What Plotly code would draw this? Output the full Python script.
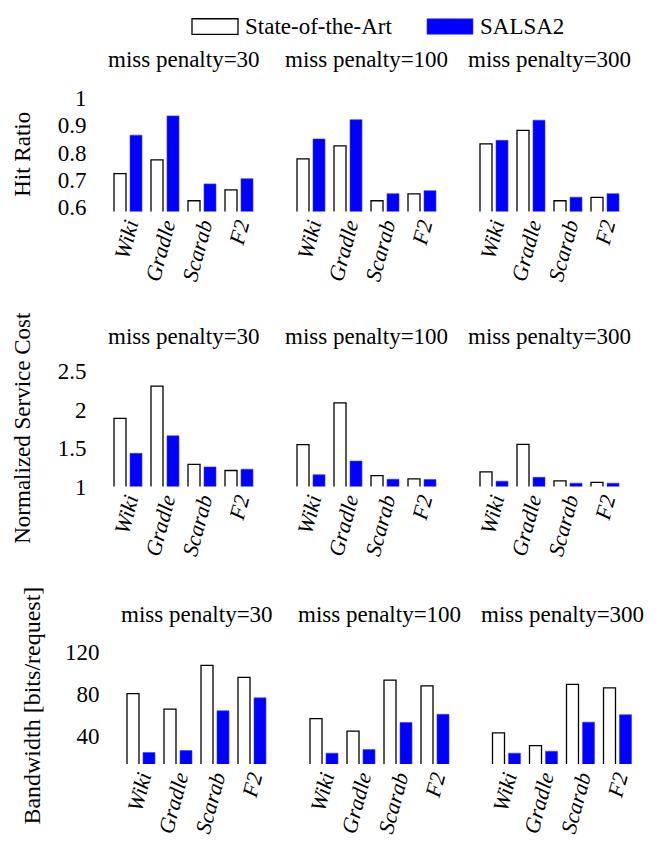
import plotly.graph_objects as go

W, H = 661, 842

categories = ["Wiki", "Gradle", "Scarab", "F2"]
penalties = [30, 100, 300]
series_names = ["State-of-the-Art", "SALSA2"]

hit_sota = [[0.723, 0.773, 0.623, 0.663],
            [0.777, 0.825, 0.623, 0.648],
            [0.832, 0.882, 0.623, 0.635]]
hit_salsa = [[0.864, 0.935, 0.685, 0.704],
             [0.850, 0.921, 0.649, 0.660],
             [0.845, 0.919, 0.636, 0.649]]

cost_sota = [[1.887, 2.308, 1.288, 1.209],
             [1.546, 2.090, 1.142, 1.099],
             [1.192, 1.550, 1.073, 1.053]]
cost_salsa = [[1.432, 1.660, 1.255, 1.225],
              [1.154, 1.331, 1.095, 1.091],
              [1.070, 1.120, 1.044, 1.044]]

bw_sota = [[80.0, 65.2, 106.8, 95.4],
           [56.3, 44.3, 92.9, 87.4],
           [42.8, 30.5, 88.9, 85.5]]
bw_salsa = [[24.0, 25.9, 63.7, 76.0],
            [23.4, 26.8, 52.6, 60.3],
            [23.4, 25.2, 52.9, 60.0]]

row_titles = ["Hit Ratio", "Normalized Service Cost", "Bandwidth [bits/request]"]
hit_ticks = [0.6, 0.7, 0.8, 0.9, 1.0]
hit_ticktext = ["0.6", "0.7", "0.8", "0.9", "1"]
cost_ticks = [1.0, 1.5, 2.0, 2.5]
cost_ticktext = ["1", "1.5", "2", "2.5"]
bw_ticks = [40, 80, 120]
bw_ticktext = ["40", "80", "120"]

FONT = "Liberation Serif, Times New Roman, Times, serif"
FS = 23
XFS = 22
BLUE = "#0000ff"

rows = [
    dict(sota=hit_sota, salsa=hit_salsa, yrange=[0.583, 1.002], ypx=[89.2, 206.5],
         ticks=hit_ticks, ticktext=hit_ticktext,
         xpx=[[109.5, 257.5], [292.5, 440.5], [475.5, 623.5]], title_y=50,
         ytitle_xy=(23, 148), ytitle_fs=23),
    dict(sota=cost_sota, salsa=cost_salsa, yrange=[1.0, 2.52], ypx=[369.3, 489.5],
         ticks=cost_ticks, ticktext=cost_ticktext,
         xpx=[[109.5, 257.5], [292.5, 440.5], [475.5, 623.5]], title_y=335,
         ytitle_xy=(23, 429), ytitle_fs=23),
    dict(sota=bw_sota, salsa=bw_salsa, yrange=[13.2, 122], ypx=[657.2, 775],
         ticks=bw_ticks, ticktext=bw_ticktext,
         xpx=[[122.5, 270.5], [305.5, 453.5], [488, 636]], title_y=621,
         ytitle_xy=(32, 715), ytitle_fs=24),
]

fig = go.Figure()
layout = dict(width=W, height=H, margin=dict(l=0, r=0, t=0, b=0),
              paper_bgcolor="white", plot_bgcolor="white",
              barmode="group", bargap=0.135, bargroupgap=0.25,
              showlegend=False, font=dict(family=FONT, size=FS, color="black"))
annotations = []
shapes = []

ticktext_x = ["<i>%s</i>" % c for c in categories]

idx = 0
for r, row in enumerate(rows):
    for c in range(3):
        idx += 1
        xa = "x" if idx == 1 else "x%d" % idx
        ya = "y" if idx == 1 else "y%d" % idx
        fig.add_trace(go.Bar(x=categories, y=row["sota"][c], name=series_names[0],
                             marker=dict(color="white", line=dict(color="black", width=1.3)),
                             xaxis=xa, yaxis=ya, base=0))
        fig.add_trace(go.Bar(x=categories, y=row["salsa"][c], name=series_names[1],
                             marker=dict(color=BLUE, line=dict(color="#3a3aff", width=0.6)),
                             xaxis=xa, yaxis=ya, base=0))
        x0, x1 = row["xpx"][c]
        y0, y1 = row["ypx"]
        layout["xaxis" if idx == 1 else "xaxis%d" % idx] = dict(
            domain=[x0 / W, x1 / W], anchor=ya, type="category",
            categoryorder="array", categoryarray=categories,
            range=[-0.5, 3.5], showgrid=False, showline=False, zeroline=False,
            tickmode="array", tickvals=categories, ticktext=ticktext_x,
            tickangle=-75, ticks="", ticklabelstandoff=-4,
            tickfont=dict(family=FONT, size=XFS))
        layout["yaxis" if idx == 1 else "yaxis%d" % idx] = dict(
            domain=[1 - y1 / H, 1 - y0 / H], anchor=xa, range=row["yrange"],
            showgrid=False, showline=False, zeroline=False,
            tickmode="array", tickvals=row["ticks"], ticktext=row["ticktext"],
            showticklabels=(c == 0), ticks="", ticklabelstandoff=22,
            tickfont=dict(family=FONT, size=FS))
        annotations.append(dict(text="miss penalty=%d" % penalties[c],
                                x=(x0 + x1) / 2 / W, y=1 - row["title_y"] / H,
                                xref="paper", yref="paper", showarrow=False,
                                xanchor="center", yanchor="middle",
                                font=dict(family=FONT, size=FS)))
    tx, ty = row["ytitle_xy"]
    annotations.append(dict(text=row_titles[r], x=tx / W, y=1 - ty / H,
                            xref="paper", yref="paper", showarrow=False,
                            textangle=-90, xanchor="center", yanchor="middle",
                            font=dict(family=FONT, size=row["ytitle_fs"])))

shapes.append(dict(type="rect", xref="paper", yref="paper",
                   x0=192 / W, x1=238 / W, y0=1 - 24 / H, y1=1 - 8 / H,
                   fillcolor="white", line=dict(color="black", width=1.3)))
shapes.append(dict(type="rect", xref="paper", yref="paper",
                   x0=427 / W, x1=473 / W, y0=1 - 24 / H, y1=1 - 8 / H,
                   fillcolor=BLUE, line=dict(color="#3a3aff", width=0.6)))
annotations.append(dict(text=series_names[0], x=243 / W, y=1 - 16 / H,
                        xref="paper", yref="paper", showarrow=False,
                        xanchor="left", yanchor="middle", font=dict(family=FONT, size=FS)))
annotations.append(dict(text=series_names[1], x=478 / W, y=1 - 16 / H,
                        xref="paper", yref="paper", showarrow=False,
                        xanchor="left", yanchor="middle", font=dict(family=FONT, size=FS)))

layout["annotations"] = annotations
layout["shapes"] = shapes
fig.update_layout(**layout)
fig.write_html("out.html", config={"displayModeBar": False},
               post_script="document.body.style.margin='0';document.body.style.overflow='hidden';")
